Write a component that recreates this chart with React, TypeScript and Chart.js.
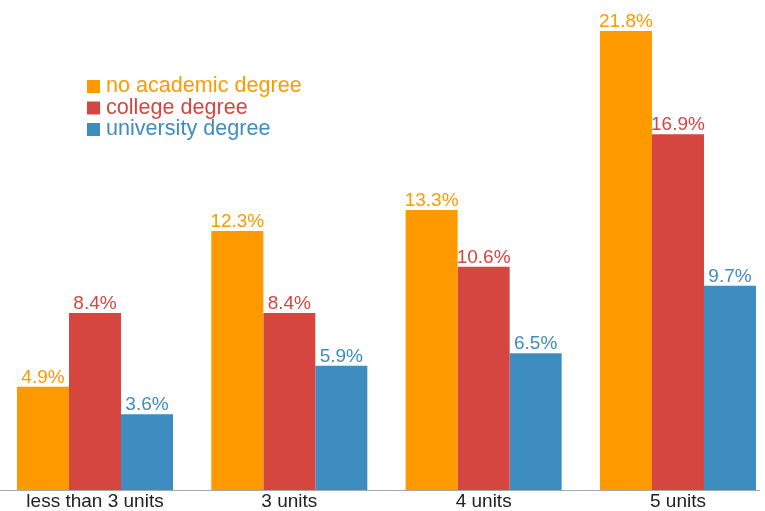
import React, { useEffect, useRef } from "react";
import { Chart, registerables } from "chart.js";

Chart.register(...registerables);

const categories = ["less than 3 units", "3 units", "4 units", "5 units"];
const seriesNames = ["no academic degree", "college degree", "university degree"];
const noDegree = [4.9, 12.3, 13.3, 21.8];
const college = [8.4, 8.4, 10.6, 16.9];
const university = [3.6, 5.9, 6.5, 9.7];
const colors = ["#FF9900", "#D4463F", "#3E8DC0"];

const FONT = "'Liberation Sans', Arial, Helvetica, sans-serif";

const valueLabels = {
  id: "valueLabels",
  afterDatasetsDraw(chart: any) {
    const ctx = chart.ctx;
    ctx.save();
    ctx.font = `19px ${FONT}`;
    ctx.textAlign = "center";
    ctx.textBaseline = "alphabetic";
    chart.data.datasets.forEach((ds: any, di: number) => {
      const meta = chart.getDatasetMeta(di);
      ctx.fillStyle = ds.backgroundColor;
      meta.data.forEach((el: any, i: number) => {
        const v = ds.data[i].y;
        ctx.fillText(v.toFixed(1) + "%", el.x, el.y - 4);
      });
    });
    ctx.restore();
  },
};

const innerLegend = {
  id: "innerLegend",
  afterDraw(chart: any) {
    const ctx = chart.ctx;
    ctx.save();
    ctx.font = `21.6px ${FONT}`;
    ctx.textBaseline = "alphabetic";
    ctx.textAlign = "left";
    chart.data.datasets.forEach((ds: any, i: number) => {
      const top = 80 + i * 21.5;
      ctx.fillStyle = ds.backgroundColor;
      ctx.fillRect(87, top, 13, 13);
      ctx.fillText(ds.label, 106, top + 12);
    });
    ctx.restore();
  },
};

export default function App() {
  const ref = useRef<HTMLCanvasElement>(null);
  useEffect(() => {
    document.body.style.margin = "0";
    document.body.style.overflow = "hidden";
    const series = [noDegree, college, university];
    const chart = new Chart(ref.current as HTMLCanvasElement, {
      type: "bar",
      data: {
        datasets: series.map((vals, s) => ({
          label: seriesNames[s],
          data: vals.map((v, i) => ({ x: i, y: v })),
          backgroundColor: colors[s],
          borderWidth: 0,
          categoryPercentage: 0.803,
          barPercentage: 1.0,
        })),
      },
      options: {
        responsive: false,
        animation: false,
        layout: { padding: { left: 0, right: 6, top: 0, bottom: 0 } },
        plugins: { legend: { display: false }, tooltip: { enabled: false } },
        scales: {
          x: {
            type: "linear",
            offset: false,
            min: -0.4889,
            max: 3.417,
            grid: { display: false, drawTicks: false, offset: false },
            border: { display: true, color: "#aaaaaa", width: 1 },
            afterBuildTicks: (axis: any) => {
              axis.ticks = categories.map((_, i) => ({ value: i }));
            },
            afterFit: (axis: any) => {
              axis.height = 21;
            },
            ticks: {
              padding: 0,
              autoSkip: false,
              maxRotation: 0,
              color: "#222222",
              font: { family: FONT, size: 19 },
              callback: (v: any) => categories[v as number] ?? "",
            },
          },
          y: {
            display: false,
            min: 0,
            max: 23.27,
          },
        },
      },
      plugins: [valueLabels, innerLegend],
    });
    return () => chart.destroy();
  }, []);
  return (
    <div style={{ width: 765, height: 511 }}>
      <canvas ref={ref} width={765} height={511} />
    </div>
  );
}
